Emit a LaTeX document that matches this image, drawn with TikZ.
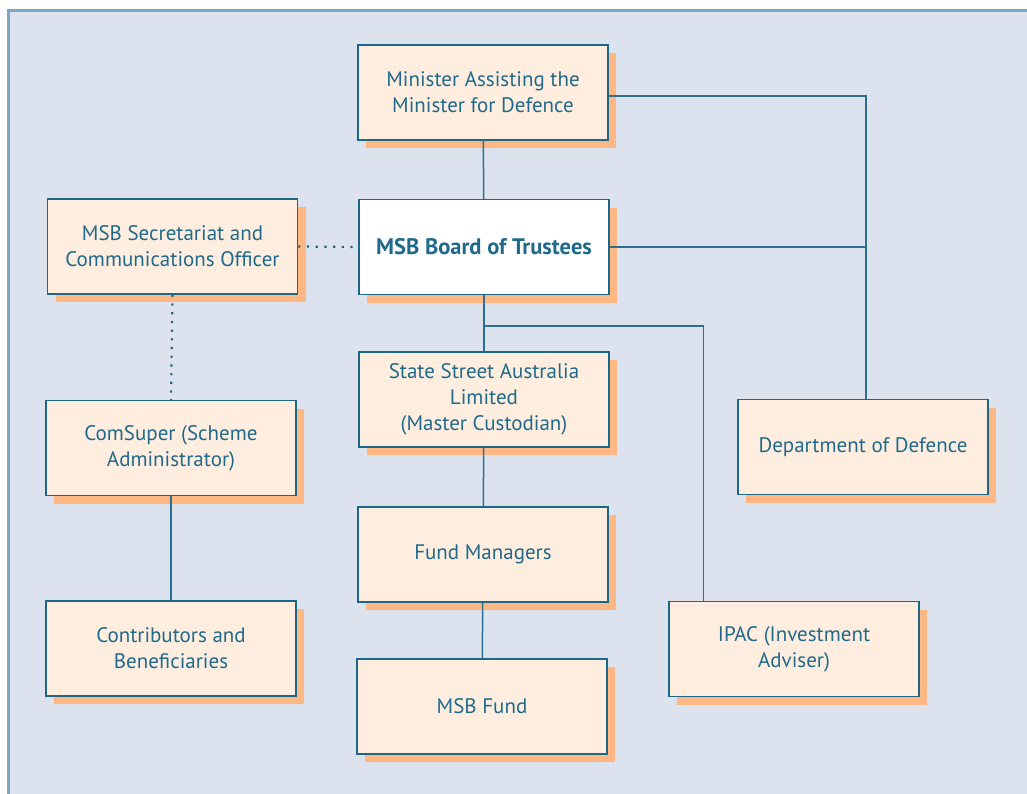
\documentclass[tikz,border=0pt]{standalone}
\usepackage{fontspec}
\setmainfont{PT Sans}
\usetikzlibrary{positioning, shadows}

\definecolor{panelblue}{HTML}{DCE3EE}
\definecolor{panelline}{HTML}{7FA6C4}
\definecolor{boxfill}{HTML}{FFEEDF}
\definecolor{boxline}{HTML}{1D6786}
\definecolor{shadoworange}{HTML}{FFB784}
\definecolor{textblue}{HTML}{1F6A8A}
\definecolor{linkblue}{HTML}{2E6F8E}

\begin{document}
\begin{tikzpicture}[
        x=1pt, y=-1pt,
        every node/.style={rectangle, draw=boxline, line width=1.5pt, fill=boxfill,
            text=textblue, align=center, minimum width=250pt, minimum height=95pt,
            font=\fontsize{21}{26}\selectfont,
            drop shadow={shadow xshift=8pt, shadow yshift=-8pt, fill=shadoworange, opacity=1}},
        link/.style={draw=linkblue, line width=1.5pt},
        dotlink/.style={draw=boxline, line width=2.2pt, dash pattern=on 2.2pt off 6.5pt}
    ]
        % background panel
        \useasboundingbox (0,0) rectangle (1027,793);
        \fill[white] (0,0) rectangle (1027,793);
        \draw[fill=panelblue, draw=panelline, line width=3pt] (8.5,10.5) rectangle (1045,810);

        % boxes
        \node (minister) at (483,92.5) {Minister Assisting the\\Minister for Defence};
        \node [fill=white, font=\fontsize{22.5}{26}\selectfont\bfseries](board) at (484,247) {MSB Board of Trustees};
        \node (secretariat) at (172.5,246.5) {MSB Secretariat and\\Communications Officer};
        \node (custodian) at (484,399.5) {State Street Australia\\Limited\\(Master Custodian)};
        \node (managers) at (483,554.5) {Fund Managers};
        \node (fund) at (482,706.5) {MSB Fund};
        \node (comsuper) at (171,448) {ComSuper (Scheme\\Administrator)};
        \node (members) at (171,648.5) {Contributors and\\Beneficiaries};
        \node (ipac) at (794,649) {IPAC (Investment\\Adviser)};
        \node (defence) at (863,447) {Department of Defence};
        \coordinate (split) at (483,326);
        \coordinate (trunk) at ([xshift=3pt]defence.north);

        % links
        \draw[link] (minister) -- (board);
        \draw[link] ([yshift=-3.5pt]minister.east) -| (trunk);
        \draw[link] (board.east) -- (board.east -| trunk);
        \draw[link] (board) -- (custodian);
        \draw[link] (split) -| ([xshift=35pt]ipac.north west);
        \draw[link] (custodian) -- (managers);
        \draw[link] (managers) -- (fund);
        \draw[link] (comsuper) -- (members);
        \draw[dotlink] (secretariat.east) -- (board.west);
        \draw[dotlink] (secretariat.south) -- (comsuper.north);
    \end{tikzpicture}
\end{document}
